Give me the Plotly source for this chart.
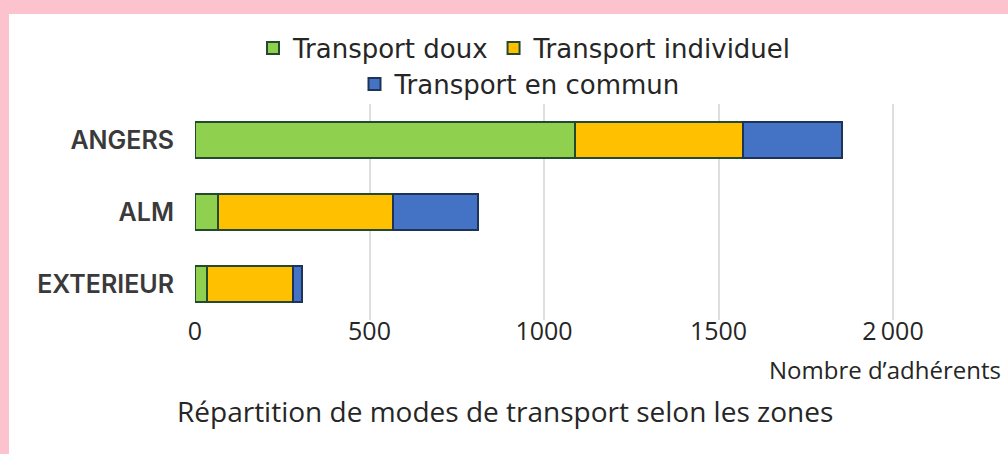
import plotly.graph_objects as go

categories = ["ANGERS", "ALM", "EXTERIEUR"]
transport_doux = [1089, 67, 35]
transport_individuel = [480, 499, 245]
transport_commun = [284, 246, 26]
series_names = ["Transport doux", "Transport individuel", "Transport en commun"]
tick_values = [0, 500, 1000, 1500, 2000]
tick_labels = ["0", "500", "1000", "1500", "2\u2009000"]

colors = ["#8fd14f", "#ffc000", "#4472c4"]
outlines = ["#23492f", "#23492f", "#1d3458"]
legends = ["legend", "legend", "legend2"]

W, H = 1008, 454
L, R, T, B = 195, 45, 104, 134
pw, ph = W - L - R, H - T - B

fig = go.Figure()
for name, vals, c, oc, lg in zip(series_names,
                                 [transport_doux, transport_individuel, transport_commun],
                                 colors, outlines, legends):
    fig.add_trace(go.Bar(
        y=categories, x=vals, name=name, orientation="h",
        marker=dict(color=c, line=dict(color=oc, width=2)),
        width=0.49, legend=lg,
    ))

def px(xp):
    return (xp - L) / pw

def py(yp):
    return (H - B - yp) / ph

fig.add_shape(type="rect", xref="paper", yref="paper",
              x0=px(9), x1=px(1010), y0=py(456), y1=py(14),
              fillcolor="white", line=dict(width=0), layer="below")

fig.add_annotation(text="Nombre d\u2019adhérents", xref="paper", yref="paper",
                   x=px(1003), y=py(369), xanchor="right", yanchor="middle",
                   showarrow=False, font=dict(family="Open Sans", size=24, color="#262626"))
fig.add_annotation(text="Répartition de modes de transport selon les zones", xref="paper", yref="paper",
                   x=px(505), y=py(411), xanchor="center", yanchor="middle",
                   showarrow=False, font=dict(family="Open Sans", size=28, color="#262626"))

legend_font = dict(family="DejaVu Sans", size=26, color="#262626")
fig.update_layout(
    width=W, height=H,
    margin=dict(l=L, r=R, t=T, b=B, autoexpand=False),
    paper_bgcolor="#fcc3cf",
    plot_bgcolor="white",
    barmode="stack",
    showlegend=True,
    legend=dict(orientation="h", xref="container", yref="container",
                x=525 / W, y=1 - 48 / H, xanchor="center", yanchor="middle",
                font=legend_font, bgcolor="rgba(0,0,0,0)", itemwidth=30,
                traceorder="normal"),
    legend2=dict(orientation="h", xref="container", yref="container",
                 x=520 / W, y=1 - 84 / H, xanchor="center", yanchor="middle",
                 font=legend_font, bgcolor="rgba(0,0,0,0)", itemwidth=30),
    xaxis=dict(range=[0, pw / 0.349], tickvals=tick_values, ticktext=tick_labels,
               showgrid=True, gridcolor="#dedede", gridwidth=1.5, zeroline=False,
               showline=False, ticks="", ticklabelstandoff=-6,
               tickfont=dict(family="Open Sans", size=25, color="#262626"),
               fixedrange=True),
    yaxis=dict(categoryorder="array", categoryarray=categories,
               range=[2.5, -0.5], showgrid=False, zeroline=False, showline=False,
               ticks="", ticklabelstandoff=20,
               tickfont=dict(family="Inter", size=25, color="#3a3a3a", weight=600),
               fixedrange=True),
)
fig.update_yaxes(autorange=False, range=[2.5, -0.5])

fig.write_html("out.html", config={"displayModeBar": False},
               post_script="document.body.style.margin='0px';document.body.style.background='#fcc3cf';")
